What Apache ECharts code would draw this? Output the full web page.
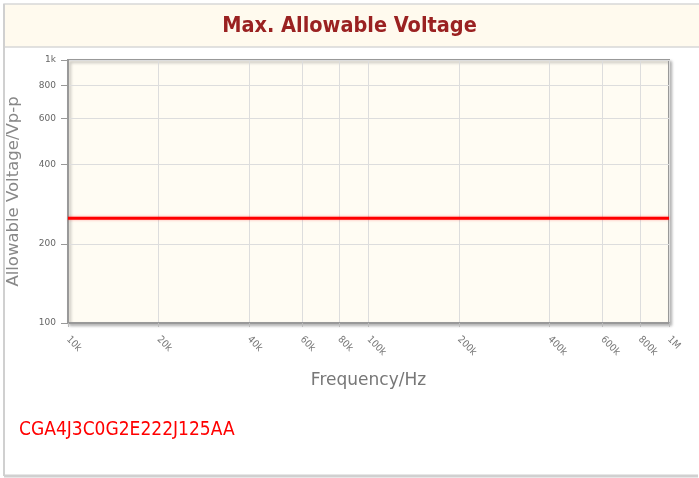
<!DOCTYPE html>
<html>
<head>
<meta charset="utf-8">
<script src="https://cdn.jsdelivr.net/npm/echarts@6/dist/echarts.min.js"></script>
<style>
html,body{margin:0;padding:0;background:#fff;}
#chart{width:699px;height:478px;}
</style>
</head>
<body>
<div id="chart"></div>
<script>
var frequency = [10000, 1000000];
var voltage = [250, 250];
var xTicks = [10000, 20000, 40000, 60000, 80000, 100000, 200000, 400000, 600000, 800000, 1000000];
var yTicks = [100, 200, 400, 600, 800, 1000];
var partNumber = 'CGA4J3C0G2E222J125AA';

function fmt(v) {
  if (v >= 1000000) return (v / 1000000) + 'M';
  if (v >= 1000) return (v / 1000) + 'k';
  return String(v);
}

var chart = echarts.init(document.getElementById('chart'), null, {renderer: 'canvas'});
var font = '"DejaVu Sans", sans-serif';
chart.setOption({
  animation: false,
  backgroundColor: '#fff',
  graphic: [
    {type: 'rect', shape: {x: 4, y: 4, width: 696, height: 43}, style: {fill: '#fffaee', stroke: '#d8d8d8', lineWidth: 1.5}, z: -10},
    {type: 'line', shape: {x1: 4, y1: 4, x2: 4, y2: 476}, style: {stroke: '#d0d0d0', lineWidth: 2}},
    {type: 'line', shape: {x1: 4, y1: 476, x2: 698, y2: 476}, style: {stroke: '#d0d0d0', lineWidth: 3}},
    {type: 'text', left: 'center', top: 15, style: {text: 'Max. Allowable Voltage', fill: '#9a2121', font: 'bold 21.5px "DejaVu Sans Condensed", "DejaVu Sans", sans-serif'}},
    {type: 'text', left: 19, top: 421, style: {text: partNumber, fill: '#ff0000', font: '19px "DejaVu Sans Condensed", "DejaVu Sans", sans-serif'}}
  ],
  grid: {
    left: 68, right: 30, top: 60, bottom: 155,
    outerBoundsMode: 'none', containLabel: false,
    show: true, backgroundColor: '#fffcf3', borderColor: '#999', borderWidth: 2,
    shadowColor: 'rgba(0,0,0,0.25)', shadowBlur: 3, shadowOffsetX: 2, shadowOffsetY: 2
  },
  xAxis: {
    type: 'log', logBase: 10, min: 10000, max: 1000000,
    name: 'Frequency/Hz', nameLocation: 'middle', nameGap: 49, nameMoveOverlap: false,
    nameTextStyle: {color: '#777', fontSize: 17, fontFamily: font},
    axisLine: {show: true, lineStyle: {color: '#999', width: 2}},
    axisTick: {show: true, length: 4, customValues: xTicks, lineStyle: {color: '#bbb'}},
    minorTick: {show: false},
    axisLabel: {customValues: xTicks, rotate: -45, fontSize: 10, color: '#777', fontFamily: '"DejaVu Sans Condensed", sans-serif', formatter: fmt, margin: 15},
    splitLine: {show: true, lineStyle: {color: '#ddd', width: 1}}
  },
  yAxis: {
    type: 'log', logBase: 10, min: 100, max: 1000,
    name: 'Allowable Voltage/Vp-p', nameLocation: 'middle', nameGap: 46, nameRotate: 90, nameMoveOverlap: false,
    nameTextStyle: {color: '#888', fontSize: 16.5, fontFamily: font},
    axisLine: {show: true, lineStyle: {color: '#999', width: 2}},
    axisTick: {show: true, length: 7, customValues: yTicks, lineStyle: {color: '#999'}},
    axisLabel: {customValues: yTicks, fontSize: 9, color: '#666', fontFamily: font, formatter: fmt, margin: 12},
    splitLine: {show: true, lineStyle: {color: '#ddd', width: 1}}
  },
  series: [{
    type: 'line',
    data: frequency.map(function (f, i) { return [f, voltage[i]]; }),
    showSymbol: false,
    lineStyle: {color: '#ff0000', width: 3, shadowColor: 'rgba(255,0,0,0.35)', shadowBlur: 3}
  }]
});
</script>
</body>
</html>
